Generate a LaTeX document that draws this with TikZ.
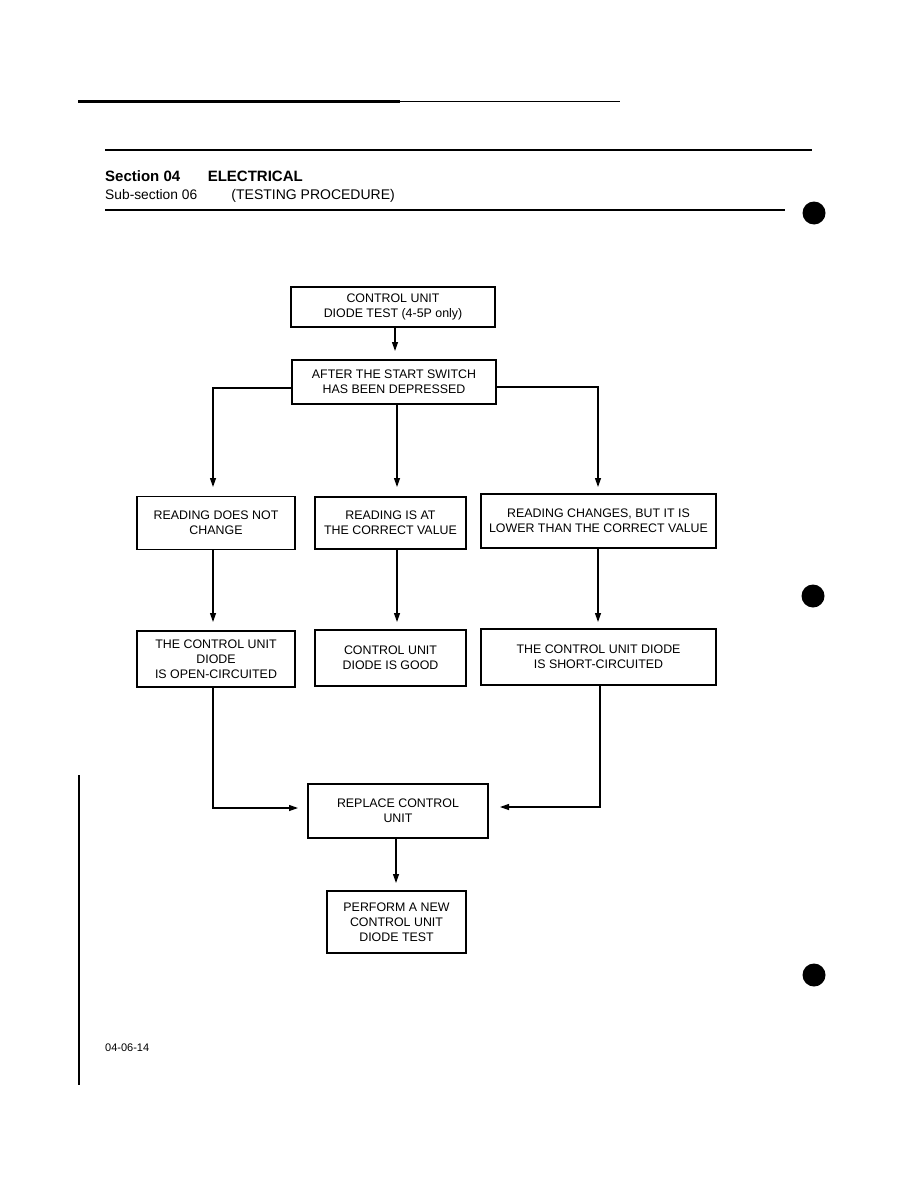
\documentclass[tikz,border=0pt]{standalone}
\usepackage{fontspec}
\setmainfont{Liberation Sans}
\usetikzlibrary{arrows.meta}
\tikzset{
  box/.style={draw, line width=1.2pt, align=center, inner sep=0pt, font=\fontsize{12.4}{15}\selectfont},
  arr/.style={line width=1.2pt, -{Triangle[length=9pt,width=6pt]}},
  rule/.style={line width=1.8pt},
  hdr/.style={inner sep=0pt, anchor=base west},
}
\begin{document}
\begin{tikzpicture}[x=1pt,y=-1pt]
\useasboundingbox[fill=white] (0,0) rectangle (918,1188);

% page rules
\draw[line width=3pt] (78,102) -- (400,102);
\draw[line width=1pt] (400,102) -- (620,102);
\draw[rule] (105,150) -- (812,150);
\draw[rule] (105,210) -- (785,210);
\draw[line width=2pt] (79,775) -- (79,1085);
\fill (814,213) circle (11.5);
\fill (813,596) circle (11.5);
\fill (814,975) circle (11.5);

% header text
\node[hdr, font=\fontsize{15}{17}\bfseries] (s04) at (105,181) {Section 04};
\node[hdr, anchor=base east, font=\fontsize{15}{17}\bfseries] (elec) at (303,181) {ELECTRICAL};
\node[hdr, font=\fontsize{13.8}{16}\selectfont] (sub) at (105,199) {Sub-section 06};
\node[hdr, anchor=base east, font=\fontsize{14}{16}\selectfont] (tp) at (395,199) {(TESTING PROCEDURE)};
\node[hdr, font=\fontsize{11}{13}\selectfont] (pg) at (105,1051) {04-06-14};

% boxes
\node[box, minimum width=204, minimum height=40] (b1) at (393,307) {CONTROL UNIT\\DIODE TEST (4-5P only)};
\node[box, minimum width=204, minimum height=44] (b2) at (394,382) {AFTER THE START SWITCH\\HAS BEEN DEPRESSED};
\node[box, minimum width=158, minimum height=53] (b3a) at (216,523) {READING DOES NOT\\CHANGE};
\node[box, minimum width=151, minimum height=52] (b3b) at (390.5,523) {READING IS AT\\THE CORRECT VALUE};
\node[box, minimum width=235, minimum height=54] (b3c) at (598.5,521) {READING CHANGES, BUT IT IS\\LOWER THAN THE CORRECT VALUE};
\node[box, minimum width=158, minimum height=56] (b4a) at (216,659) {THE CONTROL UNIT\\DIODE\\IS OPEN-CIRCUITED};
\node[box, minimum width=151, minimum height=56] (b4b) at (390.5,658) {CONTROL UNIT\\DIODE IS GOOD};
\node[box, minimum width=235, minimum height=56] (b4c) at (598.5,657) {THE CONTROL UNIT DIODE\\IS SHORT-CIRCUITED};
\node[box, minimum width=180, minimum height=54] (b5) at (398,811) {REPLACE CONTROL\\UNIT};
\node[box, minimum width=139, minimum height=62] (b6) at (396.5,922) {PERFORM A NEW\\CONTROL UNIT\\DIODE TEST};

% arrow tips
\coordinate (t1) at (395,351);
\coordinate (t3a) at (213,487);
\coordinate (t3b) at (397,487);
\coordinate (t3c) at (598,487);
\coordinate (t4a) at (213,622);
\coordinate (t4b) at (397,622);
\coordinate (t4c) at (598,622);
\coordinate (t5l) at (298,808);
\coordinate (t5r) at (500,807);
\coordinate (t6) at (396,883);

% connectors
\draw[arr] (t1 |- b1.south) -- (t1);
\draw[arr] ([yshift=-6pt]b2.west) -| (t3a);
\draw[arr] (t3b |- b2.south) -- (t3b);
\draw[arr] ([yshift=-5pt]b2.east) -| (t3c);
\draw[arr] (t4a |- b3a.south) -- (t4a);
\draw[arr] (t4b |- b3b.south) -- (t4b);
\draw[arr] (t4c |- b3c.south) -- (t4c);
\draw[arr] (t4a |- b4a.south) |- (t5l);
\draw[arr] (600,0 |- b4c.south) |- (t5r);
\draw[arr] (t6 |- b5.south) -- (t6);
\end{tikzpicture}
\end{document}
